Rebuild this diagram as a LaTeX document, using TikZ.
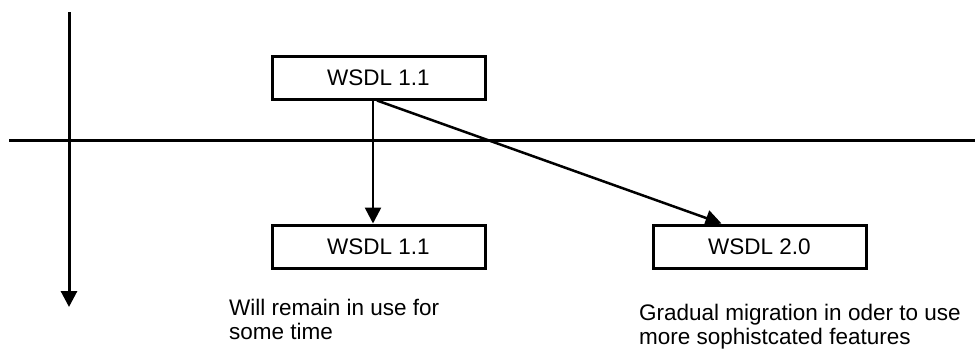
\documentclass[tikz,border=0pt]{standalone}
\usepackage{fontspec}
\setmainfont{Liberation Sans}
\usetikzlibrary{arrows.meta}
\begin{document}
\begin{tikzpicture}[x=1pt,y=-1pt,
  every node/.style={font=\fontsize{22.5}{24}\selectfont},
  box/.style={draw, line width=3pt, minimum width=213pt, minimum height=43pt, inner sep=0pt},
  note/.style={anchor=base west, align=left, inner sep=0pt},
  arr/.style={line width=2.5pt, -{Triangle[length=16pt,width=16pt]}},
  axis/.style={line width=3pt}]
\useasboundingbox (0,0) rectangle (975,349);

% time axis and boundary line
\coordinate (vtop) at (69,12);
\coordinate (vbot) at (69,307);
\coordinate (hl) at (9,140);
\coordinate (hr) at (975,140);
\draw[axis] (hl) -- (hr);
\draw[axis, -{Triangle[length=16pt,width=16pt]}] (vtop) -- (vbot);

% versions
\node[box] (old) at (378.5,77.5) {WSDL 1.1};
\node[box] (keep) at (378.5,246.5) {WSDL 1.1};
\node[box] (new) at (759.5,246.5) {WSDL 2.0};

\draw[arr] ([xshift=-5.5pt]old.south) -- ([xshift=-5.5pt]keep.north);
\draw[arr] ([xshift=-1.5pt]old.south) -- ([xshift=70pt]new.north west);

% notes (anchored on the baseline of the last line)
\node[note] (n1) at (229,339) {Will remain in use for\\some time};
\node[note] (n2) at (639,344) {Gradual migration in oder to use\\more sophistcated features};
\end{tikzpicture}
\end{document}
